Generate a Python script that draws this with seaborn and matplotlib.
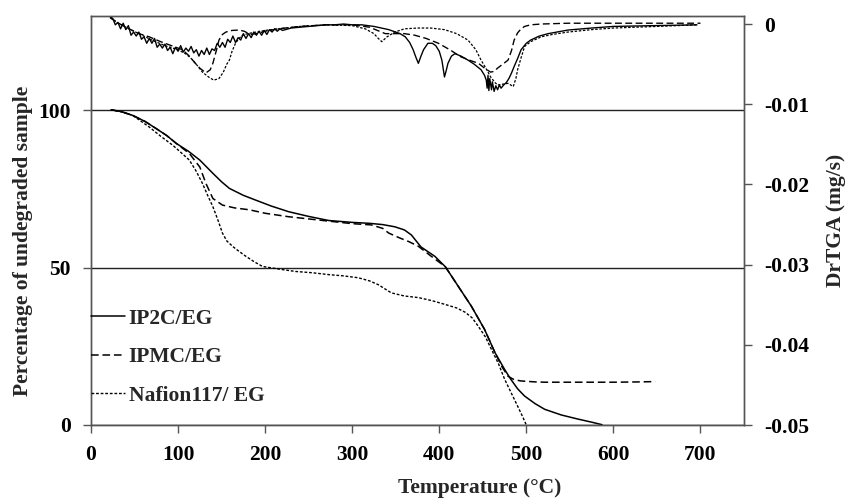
import numpy as np
import pandas as pd
import matplotlib
matplotlib.use("Agg")
import matplotlib.pyplot as plt
import seaborn as sns

# ---------------- data ----------------
series_names = ["IP2C/EG", "IPMC/EG", "Nafion117/ EG"]

# TGA (left axis, % undegraded)
ip2c_T = [23, 35, 48, 62, 75, 87, 98, 112, 125, 140, 150, 159, 175, 189, 207, 227, 250, 273, 300, 320, 335,
          349, 360, 368, 379, 395, 407, 422, 437, 452, 464, 475, 482, 490, 498, 510, 521, 540, 559, 575, 587]
ip2c_pct = [100.2, 99.6, 98.4, 96.5, 94.2, 92.0, 89.5, 87.0, 84.2, 80.0, 77.3, 75.2, 73.0, 71.5, 69.6, 67.8,
            66.3, 65.0, 64.4, 64.1, 63.7, 63.0, 62.0, 60.4, 56.6, 53.6, 50.3, 44.0, 37.7, 30.4, 23.0, 17.7,
            14.6, 11.5, 9.2, 6.8, 5.0, 3.2, 1.9, 0.9, 0.1]

ipmc_T = [23, 35, 48, 62, 75, 87, 98, 113, 125, 132, 140, 151, 165, 182, 200, 227, 250, 273, 300, 322, 335,
          342, 355, 365, 376, 390, 407, 422, 437, 452, 464, 472, 479, 486, 494, 510, 521, 560, 600, 630, 648]
ipmc_pct = [100.2, 99.6, 98.4, 96.5, 94.2, 92.0, 89.5, 86.3, 82.0, 76.8, 72.0, 69.9, 69.0, 68.4, 67.3, 66.2,
            65.5, 64.8, 64.0, 63.6, 62.5, 61.0, 59.4, 58.3, 56.8, 53.8, 50.3, 44.0, 37.7, 30.4, 23.0, 18.5,
            15.5, 14.4, 14.0, 13.7, 13.6, 13.6, 13.6, 13.7, 13.8]

naf_T = [23, 35, 48, 67, 80, 94, 103, 113, 121, 128, 134, 140, 146, 151, 156, 163, 170, 178, 188, 197, 215,
         235, 254, 273, 290, 307, 320, 330, 338, 345, 360, 376, 392, 407, 420, 430, 438, 445, 453, 460, 468,
         475, 483, 490, 496, 500]
naf_pct = [100.2, 99.5, 98.4, 94.7, 91.8, 88.9, 86.7, 84.2, 80.6, 76.8, 73.0, 69.4, 65.0, 61.0, 58.5, 56.7,
           55.2, 53.6, 51.8, 50.4, 49.6, 48.8, 48.4, 47.8, 47.4, 46.8, 45.8, 44.6, 43.2, 42.0, 41.0, 40.5,
           39.5, 38.3, 37.2, 35.8, 34.0, 31.3, 28.0, 24.0, 19.5, 14.6, 10.0, 6.0, 2.5, 0.0]

# DrTGA (right axis, mg/s)
ip2c_dT = [22, 25, 28, 31, 34, 37, 40, 43, 46, 49, 52, 55, 58, 61, 64, 67, 70, 73, 76, 79, 82, 85, 88, 91, 94,
           97, 100, 103, 106, 109, 112, 115, 118, 121, 124, 127, 130, 133, 136, 139, 142, 145, 148, 151, 154,
           157, 160, 163, 166, 169, 172, 175, 178, 181, 184, 187, 190, 193, 196, 199, 202, 205, 208, 211, 214,
           217, 220, 230, 240, 250, 260, 270, 280, 290, 300, 311, 325, 342, 355, 361, 366, 370, 373, 376, 379,
           382, 387, 392, 396, 400, 403, 406, 408, 410, 414, 418, 425, 433, 440, 448, 452, 454, 455, 456, 457,
           458, 460, 461, 463, 465, 467, 469, 471, 474, 477, 480, 483, 486, 490, 494, 500, 505, 515, 525, 548,
           575, 600, 650, 696]
ip2c_rate = [0.0009, 0.0007, -0.0001, 0.0002, -0.0006, 0.0001, -0.0007, -0.0002, -0.0014, -0.0010, -0.0015,
             -0.0010, -0.0019, -0.0016, -0.0024, -0.0018, -0.0024, -0.0018, -0.0029, -0.0025, -0.0030, -0.0025,
             -0.0033, -0.0029, -0.0037, -0.0029, -0.0034, -0.0027, -0.0035, -0.0030, -0.0034, -0.0028, -0.0036,
             -0.0032, -0.0040, -0.0033, -0.0038, -0.0030, -0.0038, -0.0031, -0.0033, -0.0024, -0.0029, -0.0023,
             -0.0029, -0.0019, -0.0023, -0.0015, -0.0023, -0.0017, -0.0020, -0.0012, -0.0018, -0.0012, -0.0017,
             -0.0010, -0.0014, -0.0009, -0.0014, -0.0008, -0.0013, -0.0007, -0.0010, -0.0006, -0.0009, -0.0006,
             -0.0008, -0.0005, -0.0004, -0.0003, -0.0002, -0.0001, -0.0001, 0.0000, -0.0001, -0.0001, -0.0003,
             -0.0007, -0.0012, -0.0016, -0.0023, -0.0032, -0.0041, -0.0049, -0.0040, -0.0032, -0.0024, -0.0024,
             -0.0027, -0.0034, -0.0045, -0.0066, -0.0058, -0.0049, -0.0040, -0.0037, -0.0040, -0.0045, -0.0050,
             -0.0057, -0.0064, -0.0070, -0.0080, -0.0064, -0.0083, -0.0068, -0.0082, -0.0072, -0.0084, -0.0077,
             -0.0082, -0.0076, -0.0080, -0.0076, -0.0073, -0.0068, -0.0061, -0.0053, -0.0043, -0.0032, -0.0024,
             -0.0020, -0.0015, -0.0012, -0.00075, -0.0005, -0.0003, -0.0002, -0.0001]

ipmc_dT = [22, 30, 40, 55, 67, 80, 95, 105, 113, 119, 125, 132, 137, 140, 144, 147, 151, 155, 162, 170, 176,
           183, 190, 200, 215, 240, 270, 300, 320, 338, 349, 360, 372, 385, 399, 412, 425, 437, 445, 452, 459,
           463, 467, 473, 479, 483, 486, 490, 494, 498, 505, 517, 548, 600, 650, 700]
ipmc_rate = [0.0008, 0.0002, -0.0004, -0.0012, -0.0016, -0.0022, -0.0028, -0.0032, -0.0040, -0.0048, -0.0055,
             -0.0061, -0.0057, -0.0049, -0.0033, -0.0020, -0.0013, -0.0010, -0.0008, -0.00075, -0.0009,
             -0.0013, -0.0012, -0.0009, -0.0006, -0.0003, -0.0001, -0.0001, -0.0004, -0.0012, -0.0012, -0.0012,
             -0.0014, -0.0018, -0.0024, -0.0032, -0.0041, -0.0046, -0.0049, -0.0055, -0.0060, -0.0059, -0.0055,
             -0.0050, -0.0045, -0.0033, -0.0020, -0.0011, -0.0006, -0.0003, -0.0001, 0.0000, 0.0001, 0.0001,
             0.0001, 0.0001]

naf_dT = [22, 30, 40, 55, 70, 85, 100, 110, 117, 123, 128, 135, 141, 147, 152, 156, 159, 162, 166, 170, 174,
          180, 190, 200, 215, 240, 270, 300, 315, 325, 330, 334, 340, 349, 360, 375, 390, 406, 420, 433, 442,
          448, 454, 459, 464, 467, 473, 479, 485, 488, 490, 494, 498, 505, 517, 530, 548, 575, 600, 650, 696]
naf_rate = [0.0008, 0.0002, -0.0004, -0.0012, -0.0020, -0.0027, -0.0032, -0.0038, -0.0045, -0.0053, -0.0060,
            -0.0066, -0.0070, -0.0068, -0.0060, -0.0050, -0.0045, -0.0034, -0.0024, -0.0018, -0.0014, -0.0012,
            -0.0010, -0.0008, -0.0006, -0.0003, -0.0001, -0.0002, -0.0006, -0.0012, -0.0018, -0.0022, -0.0016,
            -0.0010, -0.0006, -0.0005, -0.0005, -0.0007, -0.0012, -0.0020, -0.0032, -0.0045, -0.0056, -0.0066,
            -0.0073, -0.0076, -0.0075, -0.0074, -0.0078, -0.0068, -0.0057, -0.0042, -0.0028, -0.0022, -0.0016,
            -0.0013, -0.0010, -0.0007, -0.0005, -0.0003, -0.0001]

x_ticks = [0, 100, 200, 300, 400, 500, 600, 700]
left_ticks = [0, 50, 100]
right_ticks = [0, -0.01, -0.02, -0.03, -0.04, -0.05]
right_tick_labels = ["0", "-0.01", "-0.02", "-0.03", "-0.04", "-0.05"]

# ---------------- style ----------------
sns.set_theme(style="white")
plt.rcParams["font.family"] = ["Liberation Serif", "DejaVu Serif"]
plt.rcParams["font.weight"] = "bold"

styles = ["-", (0, (5, 2.5)), (0, (2, 1.3))]
widths = [1.1, 1.1, 1.0]

fig, ax = plt.subplots(figsize=(8.47, 5.0), dpi=100)
fig.subplots_adjust(left=0.1074, right=0.8784, bottom=0.15, top=0.968)
ax2 = ax.twinx()

tga = [(ip2c_T, ip2c_pct), (ipmc_T, ipmc_pct), (naf_T, naf_pct)]
dtg = [(ip2c_dT, ip2c_rate), (ipmc_dT, ipmc_rate), (naf_dT, naf_rate)]

for (xs, ys), name, ls, lw in zip(tga, series_names, styles, widths):
    df = pd.DataFrame({"T": xs, "v": ys})
    sns.lineplot(data=df, x="T", y="v", ax=ax, color="black", linestyle=ls, lw=lw,
                 label=name, estimator=None, sort=False)
for (xs, ys), name, ls, lw in zip(dtg, series_names, styles, widths):
    df = pd.DataFrame({"T": xs, "v": ys})
    sns.lineplot(data=df, x="T", y="v", ax=ax2, color="black", linestyle=ls, lw=lw * 0.9,
                 estimator=None, sort=False, legend=False)

ax.set_xlim(0, 750)
ax.set_ylim(0, 130)
ax2.set_ylim(-0.05, 0.001)
ax.set_xticks(x_ticks)
ax.set_yticks(left_ticks)
ax2.set_yticks(right_ticks)
ax2.set_yticklabels(right_tick_labels)
ax.set_xticklabels([str(t) for t in x_ticks])
ax.set_yticklabels([str(t) for t in left_ticks])

ax.yaxis.grid(True, color="#222222", lw=1.0)
ax.xaxis.grid(False)
ax2.grid(False)

for a in (ax, ax2):
    for s in a.spines.values():
        s.set_color("#555555")
        s.set_linewidth(1.0)
    a.set_xlabel("")
    a.set_ylabel("")

tick_kw = dict(length=6, width=1.0, color="#555555", labelcolor="black", labelsize=15.5, pad=8.5, direction="out")
ax.tick_params(axis="x", bottom=True, **tick_kw)
ax.tick_params(axis="y", left=True, **tick_kw)
ax2.tick_params(axis="y", right=True, **tick_kw)
for lab in ax.get_xticklabels() + ax.get_yticklabels() + ax2.get_yticklabels():
    lab.set_fontweight("bold")

ax.set_xlabel("Temperature (°C)", fontsize=15.5, fontweight="bold")
ax.xaxis.set_label_coords(0.596, -0.154)
ax.xaxis.label.set_verticalalignment("center")
ax.set_ylabel("Percentage of undegraded sample", fontsize=15.5, fontweight="bold")
ax.yaxis.set_label_coords(-0.104, 0.45)
ax.yaxis.label.set_verticalalignment("center")
ax2.set_ylabel("DrTGA (mg/s)", fontsize=15.5, fontweight="bold", rotation=90)
ax2.yaxis.set_label_coords(1.141, 0.5)
ax2.yaxis.label.set_verticalalignment("center")

handles, labels = ax.get_legend_handles_labels()
if ax.get_legend() is not None:
    ax.get_legend().remove()
leg = ax2.legend(handles, labels, loc="center left", bbox_to_anchor=(0.0, 0.166), frameon=False,
                 prop={"family": "Liberation Serif", "weight": "bold", "size": 15.5},
                 handlelength=1.6, handletextpad=0.15, labelspacing=0.85, borderpad=0.0,
                 borderaxespad=0.0)

fig.savefig("out.png", dpi=100)
